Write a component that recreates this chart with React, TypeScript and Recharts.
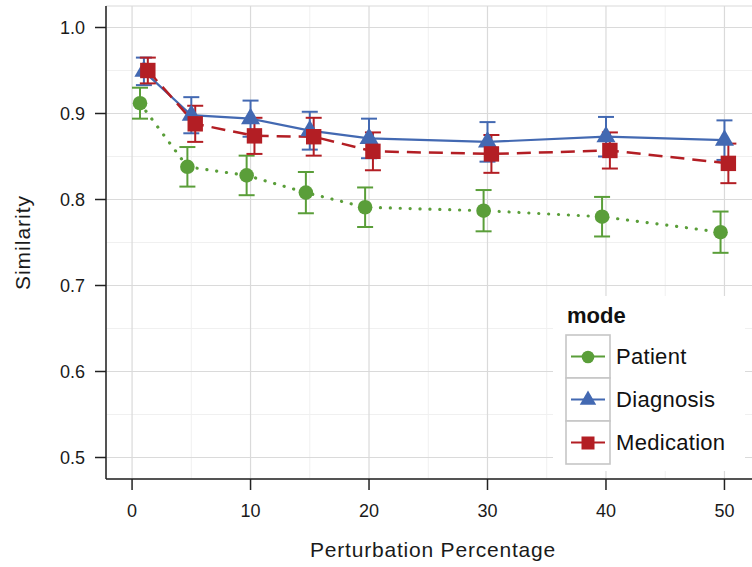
import React from "react";
import {
  LineChart,
  Line,
  XAxis,
  YAxis,
  CartesianGrid,
  ErrorBar,
  Legend,
} from "recharts";

const FONT = '"Liberation Sans", Arial, Helvetica, sans-serif';

const PERCENT = [1, 5, 10, 15, 20, 30, 40, 50];

const PATIENT = [0.912, 0.838, 0.828, 0.808, 0.791, 0.787, 0.78, 0.762];
const PATIENT_ERR = [0.018, 0.023, 0.023, 0.024, 0.023, 0.024, 0.023, 0.024];

const DIAGNOSIS = [0.949, 0.898, 0.894, 0.88, 0.871, 0.867, 0.873, 0.869];
const DIAGNOSIS_ERR = [0.016, 0.021, 0.021, 0.022, 0.023, 0.023, 0.023, 0.023];

const MEDICATION = [0.95, 0.888, 0.874, 0.873, 0.856, 0.853, 0.857, 0.842];
const MEDICATION_ERR = [0.015, 0.021, 0.021, 0.022, 0.022, 0.022, 0.021, 0.023];

const MODES = ["Patient", "Diagnosis", "Medication"];

const X_TICKS = [0, 10, 20, 30, 40, 50];
const X_MINOR = [5, 15, 25, 35, 45];
const Y_TICKS = [0.5, 0.6, 0.7, 0.8, 0.9, 1.0];
const Y_MINOR = [0.55, 0.65, 0.75, 0.85, 0.95];

const X_DOMAIN: [number, number] = [-2.2, 53];
const Y_DOMAIN: [number, number] = [0.475, 1.025];

const GREEN = "#5a9e39";
const BLUE = "#4369b2";
const RED = "#b31e24";

// ggplot-style dodge so the error bars don't sit on top of each other
const DODGE = { Patient: -0.33, Diagnosis: 0, Medication: 0.33 };

const toRows = (values: number[], errs: number[], shift: number) =>
  PERCENT.map((p, i) => ({ x: p + shift, y: values[i], err: errs[i] }));

const patientRows = toRows(PATIENT, PATIENT_ERR, DODGE.Patient);
const diagnosisRows = toRows(DIAGNOSIS, DIAGNOSIS_ERR, DODGE.Diagnosis);
const medicationRows = toRows(MEDICATION, MEDICATION_ERR, DODGE.Medication);

type MarkerProps = { cx: number; cy: number; color: string; size?: number };

function CircleMark({ cx, cy, color, size = 7.3 }: MarkerProps) {
  return <circle cx={cx} cy={cy} r={size} fill={color} />;
}

function TriangleMark({ cx, cy, color, size = 11 }: MarkerProps) {
  const h = size * 0.866;
  const pts = `${cx},${cy - size} ${cx - h},${cy + size / 2} ${cx + h},${cy + size / 2}`;
  return <polygon points={pts} fill={color} />;
}

function SquareMark({ cx, cy, color, size = 7.7 }: MarkerProps) {
  return <rect x={cx - size} y={cy - size} width={size * 2} height={size * 2} fill={color} />;
}

const SERIES_META: Record<string, { color: string; Mark: (p: MarkerProps) => React.ReactElement; legendSize: number }> = {
  Patient: { color: GREEN, Mark: CircleMark, legendSize: 6.3 },
  Diagnosis: { color: BLUE, Mark: TriangleMark, legendSize: 9.5 },
  Medication: { color: RED, Mark: SquareMark, legendSize: 6.5 },
};

const dotFor = (name: string) => (p: any) => {
  const { color, Mark } = SERIES_META[name];
  if (p.cx == null || p.cy == null) return <g key={`${name}-${p.index}`} />;
  return (
    <g key={`${name}-${p.index}`}>
      <Mark cx={p.cx} cy={p.cy} color={color} />
    </g>
  );
};

function ModeLegend(props: any) {
  // recharts sorts the payload by name; keep the factor order instead
  const items: any[] = [...(props.payload || [])].sort(
    (a, b) => MODES.indexOf(a.value) - MODES.indexOf(b.value)
  );
  return (
    <svg width={192} height={175} style={{ display: "block" }}>
      <rect width={192} height={175} fill="#ffffff" />
      <text x={14} y={27} fontFamily={FONT} fontWeight="bold" fontSize={22} fill="#111">
        mode
      </text>
      {items.map((item, i) => {
        const meta = SERIES_META[item.value];
        if (!meta) return null;
        const { Mark } = meta;
        return (
          <g key={item.value} transform={`translate(13, ${39 + i * 43})`}>
            <rect x={0} y={0} width={44} height={43} fill="#fff" stroke="#c6c6c6" strokeWidth={1.6} />
            <line x1={5} x2={39} y1={21.5} y2={21.5} stroke={meta.color} strokeWidth={2.2} />
            <Mark cx={22} cy={22} color={meta.color} size={meta.legendSize} />
            <text x={50} y={21.5} dy="0.36em" fontFamily={FONT} fontSize={22} letterSpacing={0.3} fill="#111">
              {item.value}
            </text>
          </g>
        );
      })}
    </svg>
  );
}

const tickStyle = { fontSize: 18, fill: "#1a1a1a", fontFamily: FONT };
const axisStroke = { stroke: "#222", strokeWidth: 1.5 };

export default function App() {
  return (
    <div style={{ width: 752, height: 567, overflow: "hidden", position: "relative", background: "#fff" }}>
      <style>{"body{margin:0}"}</style>
      <LineChart width={780} height={567} margin={{ top: 6, right: 20, bottom: 0, left: 0 }}>
        <CartesianGrid stroke="#f0f0f0" strokeWidth={1} verticalValues={X_MINOR} horizontalValues={Y_MINOR} />
        <CartesianGrid stroke="#dadada" strokeWidth={1.2} />
        <XAxis
          dataKey="x"
          type="number"
          domain={X_DOMAIN}
          ticks={X_TICKS}
          allowDataOverflow
          height={88}
          tickSize={11}
          tickMargin={14}
          tick={tickStyle}
          tickLine={axisStroke}
          axisLine={axisStroke}
          label={{
            value: "Perturbation Percentage",
            position: "insideBottom",
            offset: 10,
            style: { fontSize: 21, letterSpacing: 0.8, fill: "#1a1a1a", fontFamily: FONT },
          }}
        />
        <XAxis
          xAxisId="top"
          orientation="top"
          type="number"
          domain={X_DOMAIN}
          allowDataOverflow
          height={0}
          tick={false}
          tickLine={false}
          axisLine={axisStroke}
        />
        <YAxis
          type="number"
          domain={Y_DOMAIN}
          ticks={Y_TICKS}
          allowDataOverflow
          width={106}
          tickSize={11}
          tickMargin={10}
          tick={tickStyle}
          tickLine={axisStroke}
          axisLine={axisStroke}
          tickFormatter={(v: number) => v.toFixed(1)}
          label={{
            value: "Similarity",
            angle: -90,
            position: "insideLeft",
            offset: 23,
            style: { textAnchor: "middle", fontSize: 21, letterSpacing: 1, fill: "#1a1a1a", fontFamily: FONT },
          }}
        />
        <Line
          name="Patient"
          data={patientRows}
          dataKey="y"
          stroke={GREEN}
          strokeWidth={3.2}
          strokeDasharray="0.1 9.8"
          strokeLinecap="round"
          dot={dotFor("Patient")}
          activeDot={false}
          isAnimationActive={false}
        >
          <ErrorBar dataKey="err" direction="y" width={8} stroke={GREEN} strokeWidth={2} />
        </Line>
        <Line
          name="Diagnosis"
          data={diagnosisRows}
          dataKey="y"
          stroke={BLUE}
          strokeWidth={2.2}
          dot={dotFor("Diagnosis")}
          activeDot={false}
          isAnimationActive={false}
        >
          <ErrorBar dataKey="err" direction="y" width={8} stroke={BLUE} strokeWidth={2} />
        </Line>
        <Line
          name="Medication"
          data={medicationRows}
          dataKey="y"
          stroke={RED}
          strokeWidth={2.5}
          strokeDasharray="14 8"
          dot={dotFor("Medication")}
          activeDot={false}
          isAnimationActive={false}
        >
          <ErrorBar dataKey="err" direction="y" width={8} stroke={RED} strokeWidth={2} />
        </Line>
        <Legend
          layout="vertical"
          align="center"
          verticalAlign="middle"
          content={<ModeLegend />}
          wrapperStyle={{ left: 553, top: 296, width: 192, height: 175, margin: 0 }}
        />
      </LineChart>
    </div>
  );
}
